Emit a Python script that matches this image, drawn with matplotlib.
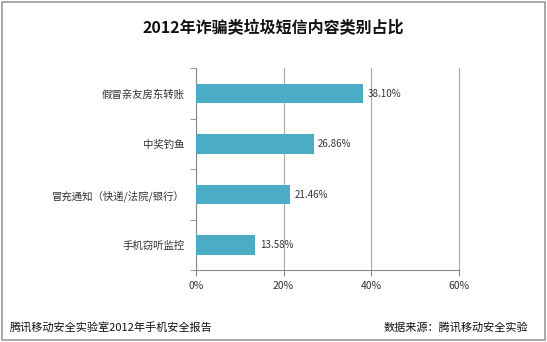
import matplotlib.pyplot as plt
import matplotlib.patches as patches
import numpy as np

plt.rcParams['font.family'] = ['Noto Sans CJK SC', 'DejaVu Sans']

categories = ['假冒亲友房东转账', '中奖钓鱼', '冒充通知（快递/法院/银行）', '手机窃听监控']
values = [38.10, 26.86, 21.46, 13.58]
xticks = [0, 20, 40, 60]

fig = plt.figure(figsize=(5.47, 3.42), dpi=100)
ax = fig.add_axes([0.358, 0.21, 0.481, 0.59])

y = np.arange(len(categories))[::-1]
ax.barh(y, values, height=0.39, color='#4bacc6', zorder=3)
for yi, v in zip(y, values):
    ax.text(v + 1.0, yi, f'{v:.2f}%', va='center', ha='left', fontsize=7, color='#333333')

ax.set_xlim(0, 60)
ax.set_ylim(-0.5, len(categories) - 0.5)
ax.set_xticks(xticks)
ax.set_xticklabels([f'{t}%' for t in xticks], fontsize=7.5, color='#333333')
ax.xaxis.grid(True, color='#aaaaaa', linewidth=0.8, zorder=0)
ax.axvline(60, color='#aaaaaa', linewidth=0.8, zorder=0, clip_on=False)

# category labels, ticks at the boundaries
ax.set_yticks(y)
ax.set_yticklabels(categories, fontsize=7.5, color='#333333')
ax.tick_params(axis='y', length=0, pad=8)
ax.set_yticks(np.arange(-0.5, len(categories), 1.0), minor=True)
ax.tick_params(axis='y', which='minor', length=4, color='#888888')
ax.tick_params(axis='x', length=4, color='#888888', pad=4)

for s in ['top', 'right']:
    ax.spines[s].set_visible(False)
ax.spines['left'].set_color('#888888')
ax.spines['bottom'].set_color('#888888')

fig.text(0.5, 0.918, '2012年诈骗类垃圾短信内容类别占比', ha='center', va='center',
         fontsize=11.5, fontweight='bold', color='#111111')
fig.text(0.018, 0.042, '腾讯移动安全实验室2012年手机安全报告', ha='left', va='center',
         fontsize=8, color='#111111')
fig.text(0.965, 0.042, '数据来源：腾讯移动安全实验', ha='right', va='center',
         fontsize=8, color='#111111')

fig.add_artist(patches.Rectangle((0.003, 0.006), 0.994, 0.988, transform=fig.transFigure,
                                 fill=False, edgecolor='#999999', linewidth=1.2))

fig.savefig('out.png', dpi=100)
